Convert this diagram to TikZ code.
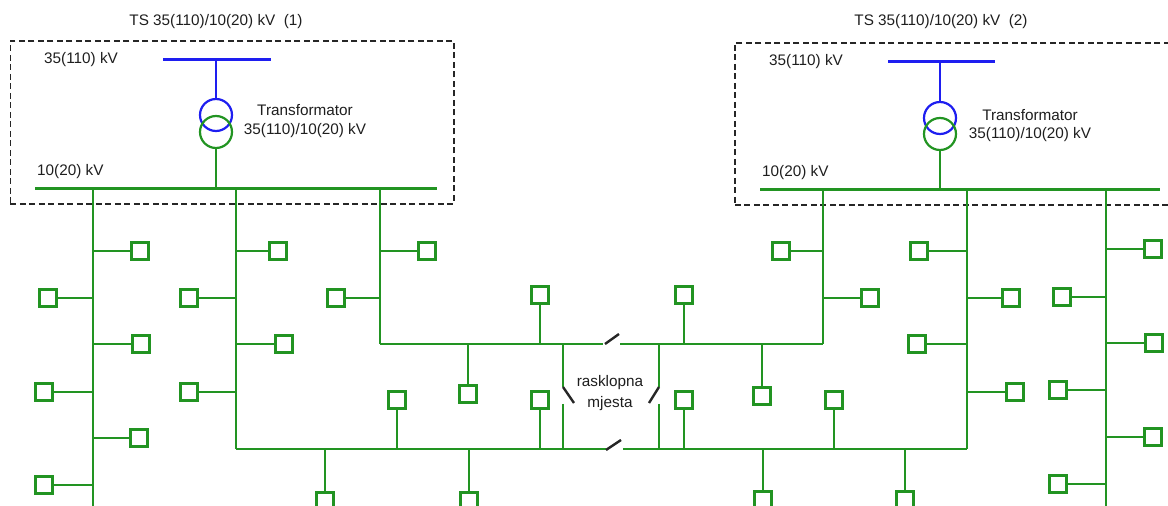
\documentclass[tikz,border=0pt]{standalone}
\usepackage{fontspec}
\setmainfont{Liberation Sans}
\definecolor{lgreen}{RGB}{34,148,34}
\definecolor{lblue}{RGB}{30,30,240}
\definecolor{ltext}{RGB}{30,30,30}
\begin{document}
\begin{tikzpicture}[x=1bp,y=-1bp,
  gl/.style={draw=lgreen,line width=2.2bp},
  bus/.style={draw=lgreen,line width=3bp},
  bbus/.style={draw=lblue,line width=3bp},
  bl/.style={draw=lblue,line width=2.2bp},
  ld/.style={draw=lgreen,line width=2.2bp,rectangle,minimum size=17bp,inner sep=0pt,fill=white},
  blade/.style={draw=black!85,line width=2.4bp},
  frame/.style={draw=black!85,line width=1.8bp,dash pattern=on 6bp off 3.5bp},
  lbl/.style={text=ltext,font=\fontsize{15.3bp}{18bp}\selectfont,inner sep=0pt},
  trc/.style={circle,minimum size=32bp,inner sep=0pt,line width=2.2bp}
]
\useasboundingbox (0,0) rectangle (1168,506);
\clip (0,0) rectangle (1168,506);

% ---------- substation frames ----------
\node[frame,rectangle,minimum width=443.5bp,minimum height=163bp,anchor=north west,inner sep=0pt] (ts1) at (9.5,40) {};
\node[frame,rectangle,minimum width=450bp,minimum height=162bp,anchor=north west,inner sep=0pt] (ts2) at (734,42) {};
\node[lbl] (t1) at (216,22) {TS 35(110)/10(20) kV\ \ (1)};
\node[lbl] (t2) at (941,22) {TS 35(110)/10(20) kV\ \ (2)};

% ---------- substation 1 ----------
\coordinate (hb1a) at (163,60); \coordinate (hb1b) at (271,60);
\draw[bbus] (hb1a) -- (hb1b);
\node[lbl,anchor=west] (hv1) at (44,60) {35(110) kV};
\node[trc,draw=lblue] (c1a) at (216,115) {};
\node[trc,draw=lgreen] (c1b) at (216,132) {};
\coordinate (hb1m) at (216,60);
\draw[bl] (hb1m) -- (c1a);
\coordinate (lb1a) at (35,189); \coordinate (lb1b) at (437,189);
\draw[bus] (lb1a) -- (lb1b);
\coordinate (lb1m) at (216,189);
\draw[gl] (c1b) -- (lb1m);
\node[lbl] (tr1a) at (305,110) {Transformator};
\node[lbl] (tr1b) at (305,131) {35(110)/10(20) kV};
\node[lbl,anchor=west] (lv1) at (37,172) {10(20) kV};

% ---------- substation 2 ----------
\coordinate (hb2a) at (888,62); \coordinate (hb2b) at (995,62);
\draw[bbus] (hb2a) -- (hb2b);
\node[lbl,anchor=west] (hv2) at (769,62) {35(110) kV};
\node[trc,draw=lblue] (c2a) at (940,118) {};
\node[trc,draw=lgreen] (c2b) at (940,134) {};
\coordinate (hb2m) at (940,62);
\draw[bl] (hb2m) -- (c2a);
\coordinate (lb2a) at (760,190); \coordinate (lb2b) at (1160,190);
\draw[bus] (lb2a) -- (lb2b);
\coordinate (lb2m) at (940,190);
\draw[gl] (c2b) -- (lb2m);
\node[lbl] (tr2a) at (1030,115) {Transformator};
\node[lbl] (tr2b) at (1030,135) {35(110)/10(20) kV};
\node[lbl,anchor=west] (lv2) at (762,173) {10(20) kV};

% ---------- feeders ----------
\coordinate (f1t) at (93,189);  \coordinate (f1e) at (93,515);
\coordinate (f2t) at (236,189); \coordinate (f2e) at (236,449);
\coordinate (f3t) at (380,189); \coordinate (f3e) at (380,344);
\coordinate (f4t) at (823,190); \coordinate (f4e) at (823,344);
\coordinate (f5t) at (967,190); \coordinate (f5e) at (967,449);
\coordinate (f6t) at (1106,190); \coordinate (f6e) at (1106,515);
\draw[gl] (f1t) -- (f1e);
\draw[gl] (f2t) -- (f2e);
\draw[gl] (f3t) -- (f3e);
\draw[gl] (f4t) -- (f4e);
\draw[gl] (f5t) -- (f5e);
\draw[gl] (f6t) -- (f6e);

% upper ring line
\coordinate (u1) at (603,344); \coordinate (u2) at (620,344);
\draw[gl] (f3e) -- (u1);
\draw[gl] (u2) -- (f4e);
% lower ring line
\coordinate (d1) at (606,449); \coordinate (d2) at (623,449);
\draw[gl] (f2e) -- (d1);
\draw[gl] (d2) -- (f5e);

% switches (rasklopna mjesta)
\coordinate (su1) at (605,344); \coordinate (su2) at (619,334);
\draw[blade] (su1) -- (su2);
\coordinate (sd1) at (606,450); \coordinate (sd2) at (621,440);
\draw[blade] (sd1) -- (sd2);
\coordinate (vl1) at (563,344); \coordinate (vl2) at (563,387);
\coordinate (vl3) at (574,403); \coordinate (vl4) at (563,404); \coordinate (vl5) at (563,449);
\draw[gl] (vl1) -- (vl2);
\draw[blade] (vl2) -- (vl3);
\draw[gl] (vl4) -- (vl5);
\coordinate (vr1) at (659,344); \coordinate (vr2) at (659,387);
\coordinate (vr3) at (649,403); \coordinate (vr4) at (659,404); \coordinate (vr5) at (659,449);
\draw[gl] (vr1) -- (vr2);
\draw[blade] (vr2) -- (vr3);
\draw[gl] (vr4) -- (vr5);
\node[lbl] (rm1) at (610,383) {rasklopna};
\node[lbl] (rm2) at (610,404) {mjesta};

% ---------- consumers (boxes) ----------
\foreach \n/\jx/\jy/\bx/\by in {
  a1/93/251/140/251, a2/93/298/48/298, a3/93/344/141/344, a4/93/392/44/392, a5/93/438/139/438, a6/93/485/44/485,
  b1/236/251/278/251, b2/236/298/189/298, b3/236/344/284/344, b4/236/392/189/392,
  c1/380/251/427/251, c2/380/298/336/298,
  u1/468/344/468/394, u2/540/344/540/295, u3/684/344/684/295, u4/762/344/762/396,
  d1/325/449/325/501, d2/397/449/397/400, d3/469/449/469/501, d4/540/449/540/400,
  d5/684/449/684/400, d6/763/449/763/500, d7/834/449/834/400, d8/905/449/905/500,
  e1/823/251/781/251, e2/823/298/870/298,
  g1/967/251/919/251, g2/967/298/1011/298, g3/967/344/917/344, g4/967/392/1015/392,
  h1/1106/249/1153/249, h2/1106/297/1062/297, h3/1106/343/1154/343, h4/1106/390/1058/390, h5/1106/437/1153/437, h6/1106/484/1058/484}
{
  \coordinate (j\n) at (\jx,\jy);
  \node[ld] (k\n) at (\bx,\by) {};
  \draw[gl] (j\n) -- (k\n);
}
\end{tikzpicture}
\end{document}
